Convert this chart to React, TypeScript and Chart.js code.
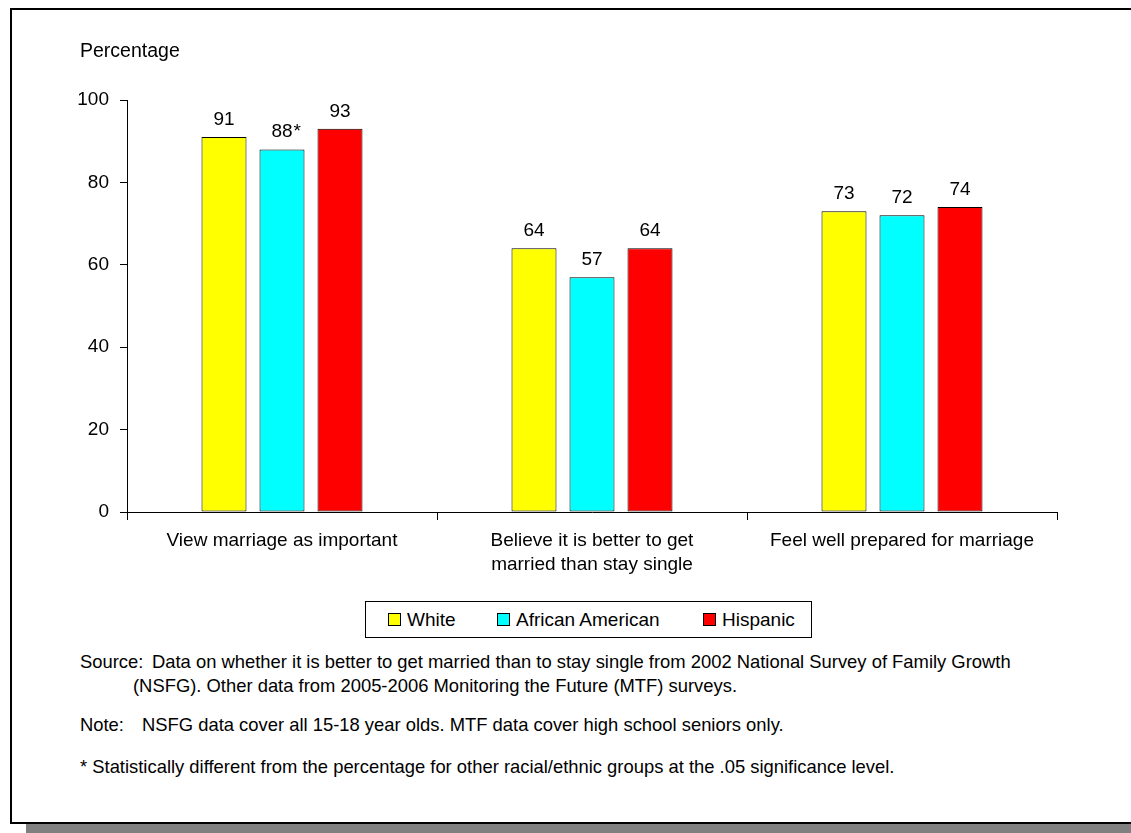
import React, { useEffect, useRef } from "react";
import { Chart, registerables } from "chart.js";

Chart.register(...registerables);

const categories: string[][] = [
  ["View marriage as important"],
  ["Believe it is better to get", "married than stay single"],
  ["Feel well prepared for marriage"],
];
const seriesNames = ["White", "African American", "Hispanic"];
const whiteValues = [91, 64, 73];
const africanAmericanValues = [88, 57, 72];
const hispanicValues = [93, 64, 74];
const significance = [
  [false, false, false],
  [true, false, false],
  [false, false, false],
];
const seriesColors = ["#FFFF00", "#00FFFF", "#FF0000"];
const yTicks = [0, 20, 40, 60, 80, 100];

const FONT = '"Liberation Sans", Arial, sans-serif';
const FOOT = 18.4;

const valueLabelPlugin = {
  id: "valueLabels",
  afterDatasetsDraw(chart: any) {
    const ctx = chart.ctx;
    ctx.save();
    ctx.font = `19px ${FONT}`;
    ctx.fillStyle = "#000";
    ctx.textBaseline = "alphabetic";
    chart.data.datasets.forEach((ds: any, di: number) => {
      const meta = chart.getDatasetMeta(di);
      meta.data.forEach((bar: any, i: number) => {
        const txt = String(ds.data[i]);
        const w = ctx.measureText(txt).width;
        const x = bar.x;
        const y = bar.y - 12;
        ctx.textAlign = "left";
        ctx.fillText(txt, x - w / 2, y);
        if (significance[di][i]) {
          ctx.fillText("*", x + w / 2 + 1, y);
        }
      });
    });
    ctx.restore();
  },
};

function ChartCanvas() {
  const ref = useRef<HTMLCanvasElement>(null);
  useEffect(() => {
    if (!ref.current) return;
    const valuesList = [whiteValues, africanAmericanValues, hispanicValues];
    const chart = new Chart(ref.current, {
      type: "bar",
      data: {
        labels: categories,
        datasets: seriesNames.map((name, i) => ({
          label: name,
          data: valuesList[i],
          backgroundColor: seriesColors[i],
          borderColor: "#000",
          borderWidth: 1,
          borderSkipped: false,
          categoryPercentage: 0.5613,
          barPercentage: 0.7759,
        })),
      },
      options: {
        responsive: false,
        animation: false,
        devicePixelRatio: 1,
        layout: { padding: { left: 0, top: 100, right: 74, bottom: 0 } },
        plugins: {
          legend: { display: false },
          tooltip: { enabled: false },
          title: { display: false },
        },
        scales: {
          x: {
            grid: {
              offset: true,
              drawOnChartArea: false,
              drawTicks: true,
              tickLength: 8,
              color: "#000",
            },
            border: { display: true, color: "#000", width: 1 },
            ticks: {
              color: "#000",
              font: { family: FONT, size: 19, lineHeight: 1.3 },
              padding: 8,
              maxRotation: 0,
              autoSkip: false,
            },
            afterFit(scale: any) {
              scale.height = 88;
            },
          },
          y: {
            min: 0,
            max: 100,
            afterBuildTicks(scale: any) {
              scale.ticks = yTicks.map((v) => ({ value: v }));
            },
            grid: {
              drawOnChartArea: false,
              drawTicks: true,
              tickLength: 7,
              color: "#000",
            },
            border: { display: true, color: "#000", width: 1 },
            ticks: {
              color: "#000",
              font: { family: FONT, size: 19 },
              padding: 11,
            },
            afterFit(scale: any) {
              scale.width = 127;
            },
          },
        },
      },
      plugins: [valueLabelPlugin],
    });
    return () => chart.destroy();
  }, []);
  return (
    <canvas
      ref={ref}
      width={1131}
      height={600}
      style={{ position: "absolute", left: 0, top: 0, width: 1131, height: 600 }}
    />
  );
}

const text = (s: React.CSSProperties): React.CSSProperties => ({
  position: "absolute",
  fontFamily: FONT,
  color: "#000",
  whiteSpace: "nowrap",
  ...s,
});

export default function App() {
  return (
    <div
      style={{
        position: "fixed",
        left: 0,
        top: 0,
        width: 1131,
        height: 833,
        overflow: "hidden",
        background: "#fff",
      }}
    >
      <div
        style={{
          position: "absolute",
          left: 10,
          top: 8,
          width: 1200,
          height: 812,
          borderTop: "2px solid #000",
          borderLeft: "2px solid #000",
          borderBottom: "2px solid #000",
        }}
      />
      <div
        style={{
          position: "absolute",
          left: 26,
          top: 824,
          width: 1200,
          height: 12,
          background: "#808080",
        }}
      />
      <ChartCanvas />
      <div style={text({ left: 80, top: 38, fontSize: 19.5, lineHeight: "24px" })}>Percentage</div>

      <div
        style={{
          position: "absolute",
          left: 365,
          top: 601,
          width: 445,
          height: 35,
          border: "1px solid #000",
        }}
      />
      {seriesNames.map((name, i) => {
        const lefts = [388, 497, 703];
        return (
          <React.Fragment key={name}>
            <div
              style={{
                position: "absolute",
                left: lefts[i],
                top: 613,
                width: 11,
                height: 11,
                background: seriesColors[i],
                border: "1px solid #000",
              }}
            />
            <div style={text({ left: lefts[i] + 19, top: 608, fontSize: 19, lineHeight: "24px" })}>{name}</div>
          </React.Fragment>
        );
      })}

      <div style={text({ left: 80, top: 650, fontSize: FOOT, lineHeight: "24px" })}>Source:</div>
      <div style={text({ left: 152, top: 650, fontSize: FOOT, lineHeight: "24px" })}>
        Data on whether it is better to get married than to stay single from 2002 National Survey of Family Growth
      </div>
      <div style={text({ left: 133, top: 674, fontSize: FOOT, lineHeight: "24px" })}>
        (NSFG). Other data from 2005-2006 Monitoring the Future (MTF) surveys.
      </div>
      <div style={text({ left: 80, top: 713, fontSize: FOOT, lineHeight: "24px" })}>Note:</div>
      <div style={text({ left: 142, top: 713, fontSize: FOOT, lineHeight: "24px" })}>
        NSFG data cover all 15-18 year olds. MTF data cover high school seniors only.
      </div>
      <div style={text({ left: 80, top: 755, fontSize: FOOT, lineHeight: "24px" })}>
        * Statistically different from the percentage for other racial/ethnic groups at the .05 significance level.
      </div>
    </div>
  );
}
